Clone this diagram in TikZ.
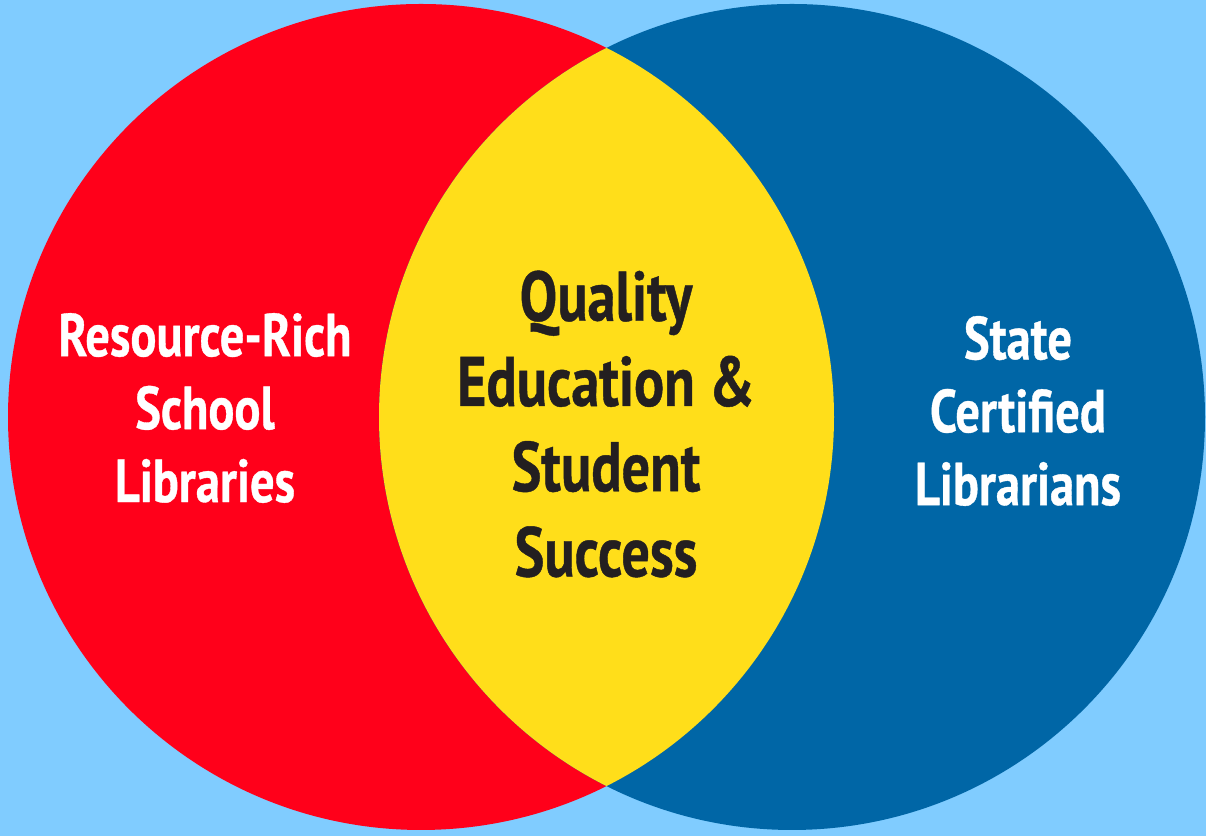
\documentclass[tikz,border=0pt]{standalone}
\usepackage{fontspec}
\setmainfont[FakeStretch=0.8,BoldFont={PT Sans Bold},BoldFeatures={FakeBold=0.6}]{PT Sans}
\usepackage{tikz}
\definecolor{skyback}{RGB}{128,204,255}
\definecolor{venred}{RGB}{255,0,26}
\definecolor{venblue}{RGB}{0,102,166}
\definecolor{venyellow}{RGB}{255,222,26}
\definecolor{darktext}{RGB}{35,31,32}

\begin{document}
\begin{tikzpicture}
   \tikzstyle{side}=[align=center, text=white, font=\bfseries\fontsize{34.5}{41.5}\selectfont]
   \tikzstyle{middle}=[align=center, text=darktext, font=\bfseries\fontsize{40}{48.5}\selectfont]
   \fill[skyback] (0,0) rectangle (24.12,16.72);
   \useasboundingbox (0,0) rectangle (24.12,16.72);
   \coordinate (left) at (8.42,8.38);
   \coordinate (right) at (15.84,8.38);
   \fill[venred] (left) circle (8.26);
   \fill[venblue] (right) circle (8.26);
   \begin{scope}
      \clip (left) circle (8.26);
      \fill[venyellow] (right) circle (8.26);
   \end{scope}
   \node[side] (school) at (4.1,8.56) {Resource-Rich\\School\\Libraries};
   \node[middle] (success) at (12.12,8.24) {Quality\\Education \&\\Student\\Success};
   \node[side] (certified) at (20.36,8.5) {State\\Certified\\Librarians};
\end{tikzpicture}
\end{document}
